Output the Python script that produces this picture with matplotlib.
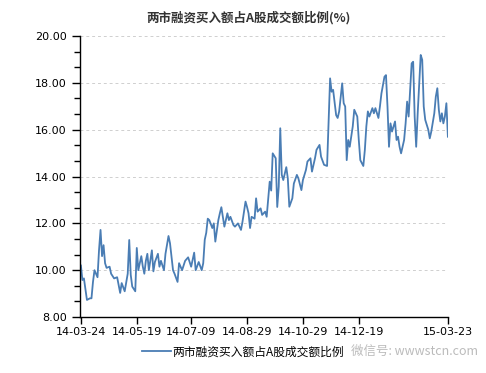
#!/usr/bin/env python3
"""Margin-buying share of A-share turnover, 2014-03 to 2015-03."""

import matplotlib
matplotlib.use('Agg')
import matplotlib.pyplot as plt
from matplotlib.ticker import MultipleLocator, FormatStrFormatter

plt.rcParams['font.family'] = ['DejaVu Sans', 'Noto Sans CJK SC']

# trading-day index (0 = 14-03-24) and ratio in %
days = [0, 1, 2, 4, 6, 7, 8, 9, 11, 12, 13, 14, 15, 16, 17, 19, 20, 22, 24,
        26, 27, 29, 31, 32, 33, 34, 36, 37, 38, 40, 41, 42, 43, 44, 45, 47,
        48, 49, 51, 52, 53, 55, 56, 58, 59, 61, 62, 64, 65, 67, 69, 71, 73,
        75, 76, 78, 80, 81, 82, 83, 84, 85, 87, 88, 89, 91, 92, 93, 94, 95,
        97, 98, 99, 101, 102, 104, 106, 107, 109, 110, 111, 112, 113, 115,
        116, 117, 119, 120, 122, 123, 125, 126, 127, 129, 130, 131, 132, 133,
        134, 136, 137, 138, 140, 141, 143, 144, 146, 147, 149, 150, 152, 153,
        155, 156, 158, 159, 161, 163, 164, 165, 166, 167, 169, 170, 171, 173,
        174, 175, 176, 177, 178, 180, 181, 183, 184, 185, 187, 188, 189, 190,
        191, 193, 194, 195, 197, 198, 199, 201, 202, 203, 204, 205, 206, 208,
        209, 210, 211, 212, 214, 215, 216, 217, 219, 220, 221, 222, 223, 225,
        226, 227, 228, 230, 231, 232, 234, 235, 236, 237, 238, 239, 240, 241,
        242, 243]
ratio = [10.2, 9.58, 9.65, 8.73, 8.8, 8.8, 9.5, 10.0, 9.7, 10.86, 11.72, 10.6,
         11.07, 10.3, 10.1, 10.15, 9.85, 9.65, 9.7, 9.03, 9.45, 9.1, 9.85,
         11.29, 9.8, 9.3, 9.1, 10.95, 10.0, 10.6, 10.15, 9.85, 10.4, 10.7,
         10.0, 10.85, 9.95, 10.35, 10.7, 10.15, 10.4, 10.0, 10.7, 11.46, 11.15,
         10.0, 9.85, 9.5, 10.3, 10.0, 10.4, 10.55, 10.15, 10.75, 10.0, 10.35,
         10.0, 10.3, 11.3, 11.6, 12.2, 12.14, 11.8, 12.0, 11.22, 12.14, 12.43,
         12.69, 12.28, 11.86, 12.43, 12.14, 12.28, 11.93, 11.86, 12.0, 11.72,
         12.07, 12.93, 12.7, 12.43, 11.8, 12.28, 12.2, 13.07, 12.5, 12.64,
         12.36, 12.5, 12.28, 13.78, 13.4, 14.99, 14.78, 12.7, 13.57, 16.06,
         14.07, 13.85, 14.4, 13.92, 12.71, 13.07, 13.7, 14.07, 13.92, 13.42,
         13.85, 14.28, 14.64, 14.78, 14.21, 14.78, 15.14, 15.35, 14.85, 14.5,
         14.45, 16.27, 18.19, 17.62, 17.7, 16.62, 16.5, 16.78, 17.98, 17.13,
         16.99, 14.7, 15.56, 15.27, 16.14, 16.85, 16.56, 15.56, 14.7, 14.45,
         15.13, 16.14, 16.78, 16.56, 16.92, 16.7, 16.92, 16.5, 16.99, 17.55,
         18.26, 18.33, 16.99, 15.27, 16.27, 15.92, 16.35, 15.56, 15.7, 15.27,
         14.99, 15.56, 16.27, 17.2, 16.56, 18.83, 18.9, 16.56, 15.27, 16.7,
         19.19, 18.98, 16.99, 16.42, 16.0, 15.63, 15.92, 16.7, 17.41, 17.77,
         16.85, 16.35, 16.7, 16.27, 16.56, 17.13, 15.7]

tick_days = [0, 37, 73, 110, 147, 184, 243]
tick_labels = ['14-03-24', '14-05-19', '14-07-09', '14-08-29', '14-10-29',
               '14-12-19', '15-03-23']

title = '两市融资买入额占A股成交额比例(%)'
series_name = '两市融资买入额占A股成交额比例'

fig = plt.figure(figsize=(4.86, 3.73), dpi=100)
ax = fig.add_axes([0.1646, 0.150, 0.757, 0.7535])

ax.plot(days, ratio, color='#4a7db4', lw=1.3, label=series_name)

ax.set_xlim(-0.6, 243)
ax.set_ylim(8, 20)
ax.yaxis.set_major_locator(MultipleLocator(2))
ax.yaxis.set_minor_locator(MultipleLocator(2 / 3))
ax.yaxis.set_major_formatter(FormatStrFormatter('%.2f'))
ax.set_xticks(tick_days)
ax.set_xticklabels(tick_labels)
ax.tick_params(axis='both', labelsize=8, colors='black', direction='out')
ax.tick_params(axis='y', which='major', length=6, width=1)
ax.tick_params(axis='y', which='minor', length=4, width=1)
ax.tick_params(axis='x', length=5, width=1, pad=2)

ax.yaxis.grid(True, linestyle=(0, (3, 3)), color='#cfcfcf', lw=0.7)
ax.set_axisbelow(True)
for side in ['top', 'right']:
    ax.spines[side].set_visible(False)
for side in ['left', 'bottom']:
    ax.spines[side].set_color('black')
    ax.spines[side].set_linewidth(1.0)

fig.text(0.512, 0.952, title, ha='center', va='center', fontsize=9,
         fontweight='bold', color='#333333',
         family=['Noto Sans CJK SC', 'DejaVu Sans'])

leg = fig.legend(loc='center', bbox_to_anchor=(0.50, 0.057), frameon=False,
                 handlelength=2.4, handletextpad=0.1,
                 prop={'family': ['Noto Sans CJK SC', 'DejaVu Sans'],
                       'size': 8.5})

# watermark, kept just right of the legend text
fig.text(0.722, 0.057, '微信号: wwwstcn.com', ha='left', va='center',
         fontsize=9, color='#b4b4b4', alpha=0.9,
         family=['Noto Sans CJK SC', 'DejaVu Sans'])

fig.savefig('out.png', dpi=100)
